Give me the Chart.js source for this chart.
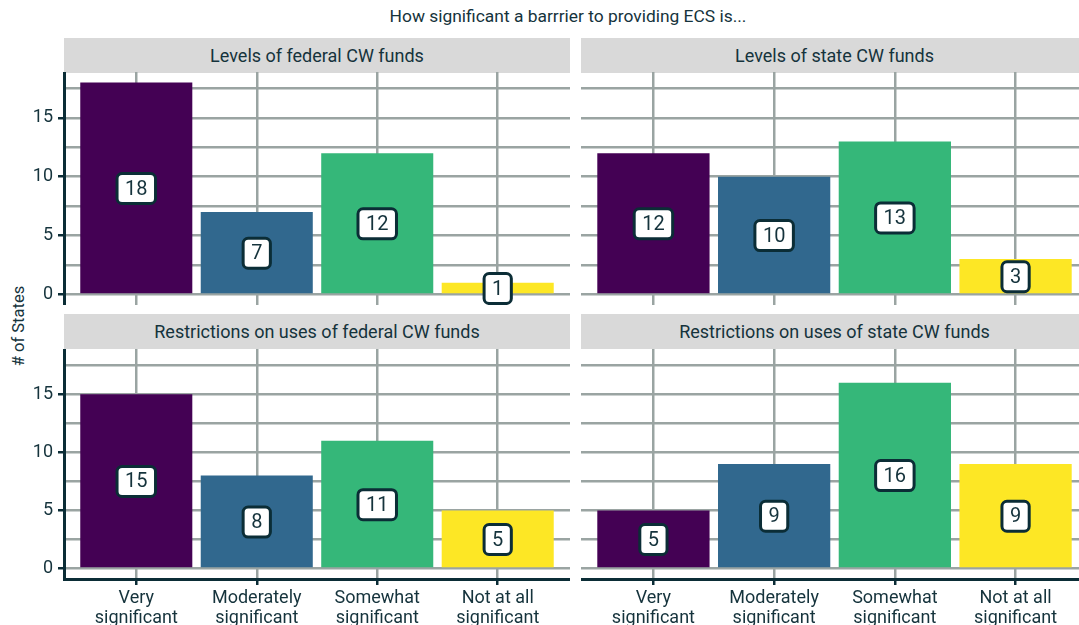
<!DOCTYPE html>
<html>
<head>
<meta charset="utf-8">
<script src="https://cdn.jsdelivr.net/npm/chart.js@4.4.1/dist/chart.umd.min.js"></script>
<style>
  html, body { margin: 0; padding: 0; background: #fff; overflow: hidden; }
  body { width: 1079px; height: 625px; position: relative; font-family: Roboto, sans-serif; color: #15333c; }
  .title { position: absolute; left: 56px; width: 1024px; top: 6px; text-align: center; font-size: 17.4px; }
  .strip { position: absolute; background: #d9d9d9; text-align: center; font-size: 18px; line-height: 35px; height: 35px; }
  .ytitle { position: absolute; left: 18px; top: 326px; transform: translate(-50%, -50%) rotate(-90deg); font-size: 16.5px; white-space: nowrap; }
  .panel { position: absolute; }
</style>
</head>
<body>
<div class="title">How significant a barrrier to providing ECS is...</div>
<div class="ytitle"># of States</div>
<div class="strip" style="left:64px;width:506px;top:38px;">Levels of federal CW funds</div>
<div class="strip" style="left:581px;width:507px;top:38px;">Levels of state CW funds</div>
<div class="strip" style="left:64px;width:506px;top:314px;">Restrictions on uses of federal CW funds</div>
<div class="strip" style="left:581px;width:507px;top:314px;">Restrictions on uses of state CW funds</div>

<div class="panel" style="left:0;top:72px;width:570px;height:233px;"><canvas id="c1"></canvas></div>
<div class="panel" style="left:581px;top:72px;width:507px;height:233px;"><canvas id="c2"></canvas></div>
<div class="panel" style="left:0;top:349px;width:570px;height:290px;"><canvas id="c3"></canvas></div>
<div class="panel" style="left:581px;top:349px;width:507px;height:290px;"><canvas id="c4"></canvas></div>

<script>
// categories and values
const categories = [['Very', 'significant'], ['Moderately', 'significant'], ['Somewhat', 'significant'], ['Not at all', 'significant']];
const fedLevels = [18, 7, 12, 1];
const stateLevels = [12, 10, 13, 3];
const fedRestrict = [15, 8, 11, 5];
const stateRestrict = [5, 9, 16, 9];
const yTicks = [0, 2.5, 5, 7.5, 10, 12.5, 15, 17.5];
const yLabels = [0, 5, 10, 15];
const barColors = ['#440154', '#31688e', '#35b779', '#fde725'];

const DARK = '#0b2d36';
const GRID = '#9aa4a2';
const TEXT = '#15333c';

// boxed value labels in the middle of each bar
const boxLabels = {
  id: 'boxLabels',
  afterDatasetsDraw(chart){
    const ctx = chart.ctx;
    const meta = chart.getDatasetMeta(0);
    const ys = chart.scales.y;
    ctx.save();
    ctx.font = '20px Roboto';
    ctx.textAlign = 'center';
    ctx.textBaseline = 'middle';
    meta.data.forEach((bar, i) => {
      const v = chart.data.datasets[0].data[i].y;
      const y = ys.getPixelForValue(v / 2);
      const txt = String(v);
      const w = ctx.measureText(txt).width + 16;
      const h = 30;
      ctx.beginPath();
      ctx.roundRect(bar.x - w / 2, y - h / 2, w, h, 5);
      ctx.fillStyle = '#fff';
      ctx.fill();
      ctx.lineWidth = 3;
      ctx.strokeStyle = DARK;
      ctx.stroke();
      ctx.fillStyle = TEXT;
      ctx.fillText(txt, bar.x, y + 1);
    });
    ctx.restore();
  }
};

function noPad(s){
  s.paddingTop = 0; s.paddingBottom = 0; s.paddingLeft = 0; s.paddingRight = 0;
}

function makePanel(id, values, showY, showX){
  new Chart(document.getElementById(id), {
    type: 'bar',
    data: {
      datasets: [{
        data: values.map((v, i) => ({ x: i, y: v })),
        backgroundColor: barColors,
        borderWidth: 0,
        barPercentage: 0.93,
        categoryPercentage: 1
      }]
    },
    options: {
      responsive: true,
      maintainAspectRatio: false,
      animation: false,
      events: [],
      layout: { padding: 0, autoPadding: false },
      plugins: { legend: { display: false }, tooltip: { enabled: false } },
      scales: {
        x: {
          type: 'linear',
          min: -0.6,
          max: 3.6,
          offset: false,
          afterBuildTicks: s => { s.ticks = categories.map((c, i) => ({ value: i })); },
          afterFit: s => { s.height = showX ? 60 : 0; noPad(s); },
          grid: {
            offset: false,
            color: GRID,
            lineWidth: 2.5,
            drawTicks: showX,
            tickLength: 6,
            tickColor: DARK,
            tickWidth: 2.5
          },
          border: { display: showX, color: DARK, width: 3 },
          ticks: {
            display: showX,
            color: TEXT,
            padding: 4,
            maxRotation: 0,
            autoSkip: false,
            font: { family: 'Roboto', size: 18, lineHeight: 1.08 },
            callback: v => categories[v]
          }
        },
        y: {
          min: -0.9,
          max: 18.9,
          afterBuildTicks: s => { s.ticks = yTicks.map(v => ({ value: v })); },
          afterFit: s => { s.width = showY ? 64 : 0; noPad(s); },
          grid: {
            color: GRID,
            lineWidth: 2.5,
            drawTicks: showY,
            tickLength: 6,
            tickWidth: 2.5,
            tickColor: c => (c.tick && yLabels.includes(c.tick.value)) ? DARK : 'rgba(0,0,0,0)'
          },
          border: { display: showY, color: DARK, width: 3 },
          ticks: {
            display: showY,
            color: TEXT,
            padding: 5,
            font: { family: 'Roboto', size: 18 },
            callback: v => yLabels.includes(v) ? String(v) : ''
          }
        }
      }
    },
    plugins: [boxLabels]
  });
}

makePanel('c1', fedLevels, true, false);
makePanel('c2', stateLevels, false, false);
makePanel('c3', fedRestrict, true, true);
makePanel('c4', stateRestrict, false, true);
</script>
</body>
</html>
